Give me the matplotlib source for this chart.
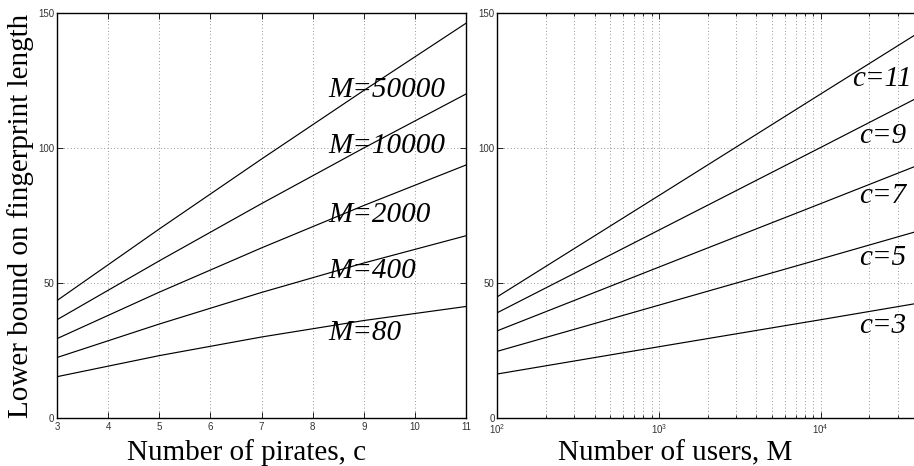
import math
import matplotlib
matplotlib.use("Agg")
import matplotlib.pyplot as plt
from matplotlib.ticker import FixedLocator, LogLocator, NullFormatter, FuncFormatter

plt.rcParams["font.family"] = ["Liberation Sans", "DejaVu Sans"]
plt.rcParams["mathtext.fontset"] = "custom"
plt.rcParams["mathtext.rm"] = "Liberation Sans"
plt.rcParams["mathtext.it"] = "Liberation Sans:italic"

# ---- left panel: bound vs. number of pirates, one curve per user count ----
pirates = [3, 5, 7, 9, 11]
len_m80 = [15.3, 23.1, 30.0, 36.1, 41.3]
len_m400 = [22.4, 34.8, 46.5, 57.4, 67.5]
len_m2000 = [29.4, 46.6, 63.0, 78.7, 93.7]
len_m10000 = [36.4, 58.2, 79.4, 100.0, 120.0]
len_m50000 = [43.5, 70.0, 95.9, 121.3, 146.2]
left_labels = ["M=80", "M=400", "M=2000", "M=10000", "M=50000"]

# ---- right panel: bound vs. number of users, one curve per coalition size ----
users = [100, 1000, 10000, 50000]
len_c3 = [16.3, 26.4, 36.4, 43.5]
len_c5 = [24.7, 41.8, 58.9, 70.9]
len_c7 = [32.3, 55.9, 79.4, 95.9]
len_c9 = [39.0, 69.6, 100.2, 121.7]
len_c11 = [44.9, 82.4, 120.0, 146.2]
right_labels = ["c=3", "c=5", "c=7", "c=9", "c=11"]

y_ticks = [0, 50, 100, 150]

W, H = 914, 466
fig = plt.figure(figsize=(W / 100, H / 100), dpi=100)
axL = fig.add_axes([57 / W, 48 / H, 409 / W, 405 / H])
axR = fig.add_axes([497.3 / W, 48 / H, 436.4 / W, 405 / H])

serif = "Liberation Serif"
grid_kw = dict(linestyle=(0, (1, 3)), linewidth=0.6, color="0.45")


def style_axes(ax):
    for s in ax.spines.values():
        s.set_linewidth(1.0)
        s.set_color("black")
    ax.tick_params(which="both", direction="in", top=True, right=True,
                   labelsize=7, pad=2, labelcolor="0.2", width=0.6)
    ax.tick_params(axis="x", which="both", pad=3)
    ax.tick_params(which="major", length=4)
    ax.tick_params(which="minor", length=2)
    ax.set_ylim(0, 150)
    ax.yaxis.set_major_locator(FixedLocator(y_ticks))


# left panel
for series in [len_m80, len_m400, len_m2000, len_m10000, len_m50000]:
    axL.plot(pirates, series, color="black", lw=0.85)
axL.set_xlim(3, 11)
axL.xaxis.set_major_locator(FixedLocator(list(range(3, 12))))
style_axes(axL)
axL.grid(True, which="major", **grid_kw)

left_label_y = [28.9, 51.9, 72.6, 98.1, 119.0]
for txt, yv in zip(left_labels, left_label_y):
    axL.text(8.3, yv, txt, fontfamily=serif, style="italic", fontsize=21,
             ha="left", va="baseline")

axL.set_ylabel("Lower bound on fingerprint length", fontfamily=serif,
               fontsize=21, va="baseline")
axL.yaxis.set_label_coords((28 - 57) / 409, 0.5)
axL.set_xlabel("Number of pirates, c", fontfamily=serif, fontsize=21,
               va="baseline")
axL.xaxis.set_label_coords((247 - 57) / 409, (418 - 460) / 405)

# right panel
for series in [len_c3, len_c5, len_c7, len_c9, len_c11]:
    axR.plot(users, series, color="black", lw=0.85)
axR.set_xscale("log")
axR.set_xlim(100, 50000)
axR.xaxis.set_major_locator(LogLocator(base=10))
axR.xaxis.set_minor_locator(LogLocator(base=10, subs=range(2, 10)))
axR.xaxis.set_minor_formatter(NullFormatter())
axR.xaxis.set_major_formatter(
    FuncFormatter(lambda v, p: r"$10^{%d}$" % round(math.log10(v))))
style_axes(axR)
axR.grid(True, which="major", **grid_kw)
axR.grid(True, which="minor", axis="x", **grid_kw)

right_label_y = [31.5, 56.7, 79.6, 101.9, 123.0]
right_label_x = [17270, 17270, 17270, 17270, 15600]
for txt, xv, yv in zip(right_labels, right_label_x, right_label_y):
    axR.text(xv, yv, txt, fontfamily=serif, style="italic", fontsize=21,
             ha="left", va="baseline")

axR.set_xlabel("Number of users, M", fontfamily=serif, fontsize=21,
               va="baseline")
axR.xaxis.set_label_coords((675 - 497.3) / 436.4, (418 - 460) / 405)

fig.savefig("out.png", dpi=100)
